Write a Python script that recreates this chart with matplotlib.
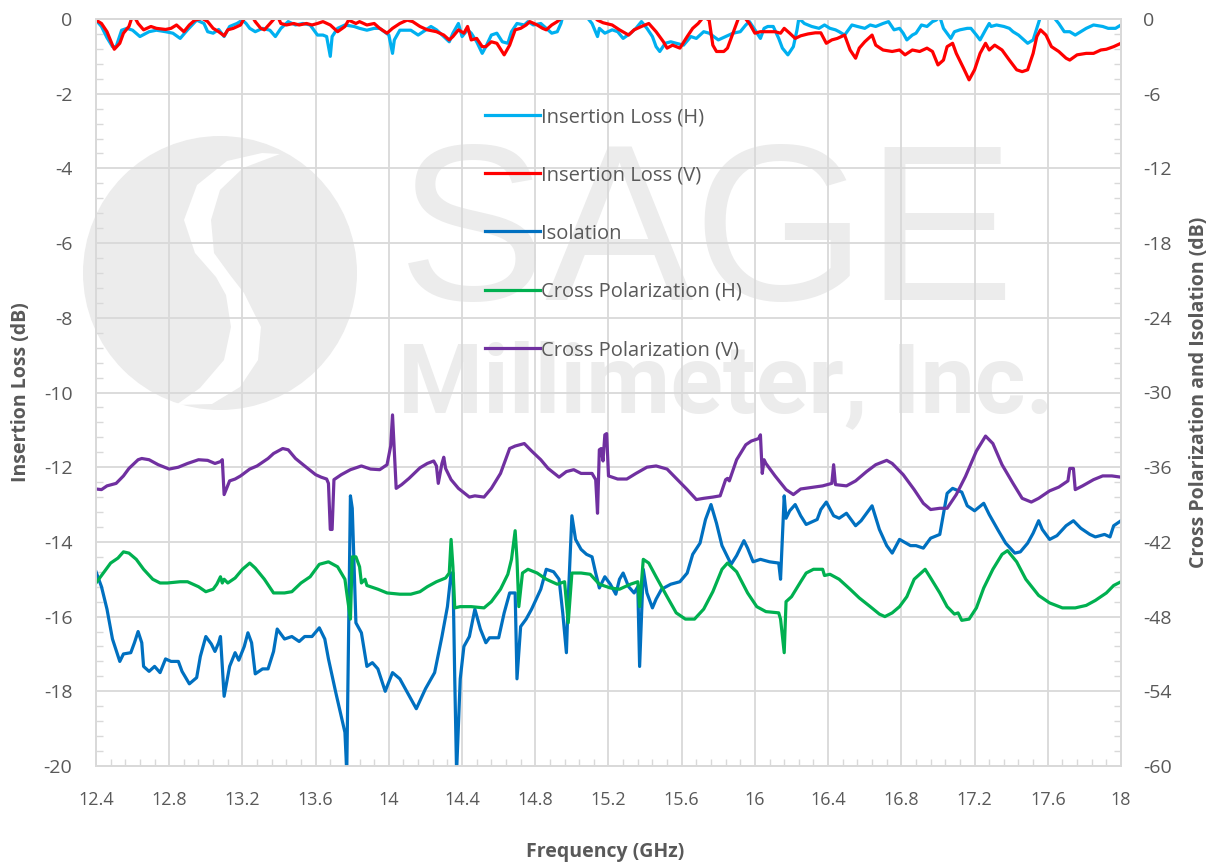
import numpy as np
import matplotlib
matplotlib.use("Agg")
import matplotlib.pyplot as plt
from matplotlib.ticker import MultipleLocator
from matplotlib.patches import Circle, Polygon

# Insertion loss (left axis, dB)
ilh_f = [12.40, 12.43, 12.46, 12.49, 12.51, 12.54, 12.57, 12.60, 12.64, 12.69,
         12.73, 12.78, 12.82, 12.86, 12.90, 12.95, 12.99, 13.01, 13.04, 13.07,
         13.10, 13.13, 13.17, 13.20, 13.22, 13.24, 13.27, 13.31, 13.35, 13.38,
         13.41, 13.45, 13.49, 13.53, 13.57, 13.61, 13.64, 13.66, 13.68, 13.69,
         13.72, 13.76, 13.81, 13.84, 13.88, 13.92, 13.95, 14.00, 14.02, 14.03,
         14.06, 14.12, 14.16, 14.20, 14.23, 14.26, 14.30, 14.33, 14.35, 14.38,
         14.40, 14.43, 14.45, 14.48, 14.51, 14.53, 14.56, 14.59, 14.62, 14.65,
         14.67, 14.70, 14.74, 14.76, 14.79, 14.83, 14.86, 14.89, 14.92, 14.94,
         14.95, 15.00, 15.08, 15.11, 15.14, 15.15, 15.18, 15.22, 15.25, 15.28,
         15.32, 15.35, 15.38, 15.41, 15.44, 15.46, 15.48, 15.51, 15.54, 15.57,
         15.61, 15.65, 15.68, 15.72, 15.75, 15.80, 15.84, 15.88, 15.92, 15.95,
         15.97, 16.00, 16.03, 16.05, 16.07, 16.10, 16.13, 16.15, 16.18, 16.21,
         16.23, 16.24, 16.27, 16.31, 16.35, 16.38, 16.41, 16.44, 16.46, 16.49,
         16.53, 16.56, 16.60, 16.63, 16.66, 16.70, 16.73, 16.76, 16.79, 16.81,
         16.83, 16.86, 16.88, 16.91, 16.94, 16.97, 16.99, 17.01, 17.03, 17.07,
         17.09, 17.12, 17.16, 17.18, 17.21, 17.23, 17.26, 17.28, 17.29, 17.32,
         17.36, 17.39, 17.41, 17.44, 17.47, 17.49, 17.52, 17.54, 17.56, 17.60,
         17.63, 17.66, 17.69, 17.72, 17.75, 17.78, 17.81, 17.85, 17.90, 17.93,
         17.97, 18.00]
ilh_v = [-0.03, -0.2, -0.5, -0.74, -0.74, -0.3, -0.25, -0.3, -0.47, -0.34,
         -0.3, -0.34, -0.38, -0.52, -0.29, -0.03, -0.12, -0.34, -0.38, -0.28,
         -0.47, -0.2, -0.12, -0.03, -0.12, -0.25, -0.34, -0.25, -0.3, -0.47,
         -0.25, -0.07, -0.16, -0.12, -0.16, -0.43, -0.43, -0.47, -1.0, -0.47,
         -0.25, -0.16, -0.2, -0.25, -0.3, -0.25, -0.25, -0.43, -0.92, -0.56,
         -0.3, -0.3, -0.43, -0.3, -0.2, -0.29, -0.47, -0.61, -0.38, -0.12,
         -0.47, -0.29, -0.38, -0.61, -0.92, -0.74, -0.43, -0.38, -0.61, -0.65,
         -0.34, -0.12, -0.16, -0.07, -0.16, -0.12, -0.25, -0.38, -0.34, -0.12,
         0.06, 0.4, 0.06, -0.12, -0.47, -0.25, -0.38, -0.29, -0.34, -0.52,
         -0.38, -0.25, -0.07, -0.25, -0.47, -0.74, -0.87, -0.65, -0.61, -0.65,
         -0.7, -0.47, -0.52, -0.34, -0.38, -0.56, -0.47, -0.38, -0.34, -0.16,
         -0.07, -0.29, -0.52, -0.25, -0.2, -0.2, -0.52, -0.78, -0.96, -0.74,
         -0.29, 0.02, -0.12, -0.2, -0.25, -0.16, -0.25, -0.29, -0.34, -0.43,
         -0.16, -0.2, -0.25, -0.16, -0.2, -0.12, -0.07, -0.29, -0.25, -0.38,
         -0.56, -0.43, -0.38, -0.16, -0.2, -0.07, -0.03, 0.06, -0.25, -0.52,
         -0.34, -0.29, -0.25, -0.25, -0.43, -0.56, -0.29, -0.12, -0.2, -0.16,
         -0.2, -0.25, -0.34, -0.43, -0.56, -0.65, -0.56, -0.25, 0.06, 0.3,
         0.06, -0.12, -0.34, -0.34, -0.43, -0.34, -0.25, -0.16, -0.2, -0.25,
         -0.25, -0.16]

ilv_f = [12.40, 12.43, 12.46, 12.49, 12.50, 12.53, 12.55, 12.58, 12.60, 12.61,
         12.63, 12.66, 12.70, 12.73, 12.78, 12.81, 12.84, 12.88, 12.91, 12.94,
         12.98, 13.01, 13.04, 13.07, 13.10, 13.12, 13.15, 13.19, 13.21, 13.25,
         13.27, 13.30, 13.32, 13.36, 13.39, 13.41, 13.44, 13.48, 13.51, 13.55,
         13.58, 13.61, 13.64, 13.68, 13.72, 13.76, 13.78, 13.82, 13.84, 13.88,
         13.92, 13.95, 13.99, 14.02, 14.06, 14.10, 14.13, 14.17, 14.21, 14.26,
         14.30, 14.33, 14.35, 14.38, 14.41, 14.43, 14.45, 14.48, 14.51, 14.53,
         14.56, 14.59, 14.63, 14.66, 14.69, 14.72, 14.75, 14.77, 14.81, 14.84,
         14.86, 14.89, 14.92, 14.95, 15.03, 15.12, 15.14, 15.17, 15.22, 15.26,
         15.31, 15.34, 15.38, 15.42, 15.46, 15.50, 15.52, 15.55, 15.59, 15.63,
         15.66, 15.69, 15.72, 15.75, 15.77, 15.79, 15.83, 15.85, 15.88, 15.91,
         15.94, 15.97, 16.00, 16.03, 16.07, 16.11, 16.14, 16.16, 16.19, 16.22,
         16.25, 16.29, 16.33, 16.36, 16.39, 16.42, 16.45, 16.49, 16.52, 16.55,
         16.57, 16.60, 16.64, 16.66, 16.70, 16.75, 16.79, 16.82, 16.86, 16.90,
         16.94, 16.97, 17.00, 17.03, 17.05, 17.08, 17.10, 17.14, 17.17, 17.20,
         17.23, 17.26, 17.28, 17.31, 17.35, 17.39, 17.43, 17.46, 17.49, 17.52,
         17.54, 17.56, 17.59, 17.62, 17.66, 17.70, 17.72, 17.76, 17.81, 17.85,
         17.89, 17.92, 17.96, 18.00]
ilv_v = [-0.03, -0.12, -0.34, -0.7, -0.81, -0.65, -0.38, -0.2, 0.1, 0.06,
         -0.12, -0.29, -0.2, -0.25, -0.28, -0.25, -0.16, -0.34, -0.16, -0.03,
         0.02, -0.07, -0.25, -0.34, -0.45, -0.29, -0.25, -0.16, 0.02, 0.1,
         -0.07, -0.25, -0.29, -0.07, 0.1, -0.12, -0.16, -0.12, -0.16, -0.12,
         -0.16, -0.12, -0.07, -0.16, -0.34, -0.2, -0.03, -0.12, -0.07, -0.16,
         -0.12, -0.25, -0.38, -0.25, -0.12, -0.03, -0.07, -0.2, -0.29, -0.34,
         -0.43, -0.56, -0.47, -0.29, -0.38, -0.2, -0.56, -0.52, -0.74, -0.74,
         -0.61, -0.65, -0.96, -0.7, -0.29, -0.25, -0.16, -0.07, -0.16, -0.25,
         -0.29, -0.16, -0.07, 0.06, 0.4, 0.06, -0.03, -0.1, -0.16, -0.29,
         -0.43, -0.29, -0.2, -0.12, -0.34, -0.61, -0.78, -0.7, -0.78, -0.47,
         -0.25, -0.12, 0.06, -0.03, -0.7, -0.87, -0.87, -0.78, -0.38, 0.02,
         0.06, -0.12, -0.38, -0.34, -0.34, -0.34, -0.38, -0.25, -0.38, -0.52,
         -0.45, -0.4, -0.37, -0.37, -0.65, -0.56, -0.52, -0.43, -0.83, -1.05,
         -0.78, -0.61, -0.43, -0.7, -0.83, -0.87, -0.83, -0.96, -0.83, -0.87,
         -0.78, -0.87, -1.23, -1.1, -0.74, -0.65, -0.92, -1.32, -1.63, -1.36,
         -0.92, -0.65, -0.83, -0.7, -0.83, -1.1, -1.36, -1.41, -1.36, -0.92,
         -0.47, -0.29, -0.43, -0.74, -0.87, -1.05, -1.1, -0.96, -0.92, -0.92,
         -0.83, -0.81, -0.74, -0.65]

# Isolation and cross polarization (right axis, dB)
iso_f = [12.40, 12.43, 12.46, 12.49, 12.53, 12.55, 12.59, 12.61, 12.63, 12.65,
         12.66, 12.69, 12.72, 12.75, 12.78, 12.81, 12.85, 12.87, 12.91, 12.95,
         12.97, 13.00, 13.03, 13.05, 13.07, 13.08, 13.10, 13.13, 13.16, 13.18,
         13.21, 13.23, 13.25, 13.27, 13.31, 13.34, 13.37, 13.39, 13.43, 13.47,
         13.51, 13.54, 13.58, 13.62, 13.65, 13.67, 13.71, 13.74, 13.76, 13.77,
         13.79, 13.80, 13.82, 13.85, 13.88, 13.91, 13.94, 13.98, 14.02, 14.06,
         14.12, 14.15, 14.20, 14.25, 14.29, 14.32, 14.34, 14.35, 14.36, 14.37,
         14.39, 14.41, 14.44, 14.47, 14.50, 14.53, 14.55, 14.60, 14.63, 14.66,
         14.69, 14.70, 14.72, 14.75, 14.78, 14.83, 14.86, 14.90, 14.93, 14.95,
         14.97, 14.98, 15.00, 15.02, 15.05, 15.08, 15.11, 15.13, 15.15, 15.18,
         15.21, 15.24, 15.26, 15.28, 15.31, 15.34, 15.36, 15.37, 15.39, 15.41,
         15.44, 15.46, 15.49, 15.54, 15.59, 15.63, 15.66, 15.70, 15.73, 15.76,
         15.79, 15.82, 15.87, 15.90, 15.94, 15.96, 15.99, 16.03, 16.08, 16.13,
         16.14, 16.16, 16.17, 16.19, 16.22, 16.25, 16.28, 16.34, 16.36, 16.39,
         16.43, 16.46, 16.50, 16.55, 16.58, 16.64, 16.68, 16.72, 16.75, 16.79,
         16.85, 16.88, 16.92, 16.96, 17.01, 17.05, 17.08, 17.13, 17.16, 17.20,
         17.25, 17.28, 17.33, 17.37, 17.42, 17.45, 17.49, 17.52, 17.55, 17.57,
         17.61, 17.65, 17.70, 17.74, 17.78, 17.83, 17.86, 17.91, 17.94, 17.96,
         18.00]
iso_v = [-44.4, -45.6, -47.4, -49.8, -51.6, -51.0, -50.9, -50.1, -49.2, -50.1,
         -52.0, -52.4, -52.0, -52.5, -51.4, -51.6, -51.6, -52.4, -53.4, -52.9,
         -51.2, -49.6, -50.2, -50.8, -50.1, -49.6, -54.4, -52.0, -50.9, -51.5,
         -50.4, -49.3, -50.1, -52.6, -52.2, -52.2, -50.8, -49.0, -49.8, -49.6,
         -50.0, -49.6, -49.6, -48.9, -49.8, -51.4, -54.1, -56.0, -57.3, -60.5,
         -38.3, -39.3, -48.5, -49.3, -52.0, -51.7, -52.2, -54.0, -52.5, -53.0,
         -54.6, -55.4, -53.8, -52.5, -49.6, -47.2, -44.5, -44.5, -53.0, -60.5,
         -53.0, -50.4, -49.6, -47.4, -49.0, -50.1, -49.7, -49.7, -47.7, -46.1,
         -46.1, -53.0, -48.8, -48.2, -47.4, -45.8, -44.2, -44.4, -45.0, -47.7,
         -50.9, -46.6, -39.9, -41.8, -42.6, -43.0, -43.2, -44.5, -45.7, -44.8,
         -45.4, -46.2, -45.0, -44.5, -45.6, -46.1, -45.6, -52.0, -44.2, -46.1,
         -47.3, -46.6, -45.8, -45.4, -45.2, -44.5, -43.0, -42.1, -40.2, -39.0,
         -40.5, -42.3, -43.8, -43.1, -41.9, -42.5, -43.6, -43.4, -43.6, -43.7,
         -45.0, -38.3, -40.1, -39.5, -39.0, -39.9, -40.6, -40.2, -39.4, -38.8,
         -39.9, -40.1, -39.7, -40.7, -40.3, -39.1, -41.0, -42.3, -42.9, -41.8,
         -42.3, -42.3, -42.5, -41.7, -41.4, -38.1, -37.7, -38.0, -39.1, -39.5,
         -38.9, -39.8, -41.1, -42.1, -42.9, -42.8, -42.1, -41.3, -40.3, -41.0,
         -41.8, -41.5, -40.7, -40.3, -40.9, -41.4, -41.6, -41.4, -41.6, -40.7,
         -40.3]

xph_f = [12.40, 12.44, 12.48, 12.52, 12.55, 12.58, 12.62, 12.66, 12.71, 12.75,
         12.79, 12.86, 12.90, 12.96, 13.00, 13.04, 13.06, 13.08, 13.09, 13.10,
         13.12, 13.16, 13.20, 13.24, 13.27, 13.32, 13.37, 13.43, 13.47, 13.52,
         13.57, 13.62, 13.67, 13.72, 13.76, 13.77, 13.79, 13.80, 13.82, 13.84,
         13.85, 13.87, 13.88, 13.94, 13.99, 14.06, 14.12, 14.17, 14.21, 14.26,
         14.31, 14.33, 14.34, 14.35, 14.36, 14.39, 14.45, 14.52, 14.56, 14.61,
         14.65, 14.67, 14.69, 14.70, 14.71, 14.73, 14.76, 14.81, 14.86, 14.92,
         14.96, 14.98, 15.00, 15.05, 15.10, 15.15, 15.21, 15.26, 15.32, 15.36,
         15.37, 15.39, 15.42, 15.46, 15.52, 15.57, 15.62, 15.67, 15.72, 15.77,
         15.82, 15.85, 15.90, 15.96, 16.01, 16.06, 16.13, 16.14, 16.16, 16.17,
         16.20, 16.25, 16.28, 16.32, 16.37, 16.38, 16.41, 16.46, 16.52, 16.57,
         16.63, 16.68, 16.71, 16.75, 16.79, 16.83, 16.87, 16.93, 16.96, 17.01,
         17.05, 17.09, 17.11, 17.13, 17.17, 17.21, 17.25, 17.30, 17.35, 17.38,
         17.43, 17.48, 17.55, 17.61, 17.68, 17.75, 17.81, 17.86, 17.92, 17.96,
         18.00]
xph_v = [-45.3, -44.5, -43.7, -43.3, -42.8, -42.9, -43.4, -44.2, -45.0, -45.3,
         -45.3, -45.2, -45.2, -45.6, -46.0, -45.8, -45.4, -44.8, -45.3, -45.0,
         -45.3, -44.9, -44.2, -43.7, -44.1, -45.0, -46.1, -46.1, -46.0, -45.3,
         -44.8, -43.8, -43.6, -44.0, -45.0, -46.1, -48.2, -43.2, -43.2, -44.0,
         -45.3, -45.0, -45.5, -45.8, -46.1, -46.2, -46.2, -46.0, -45.6, -45.2,
         -44.9, -44.5, -41.8, -44.0, -47.3, -47.2, -47.2, -47.3, -46.8, -45.8,
         -44.6, -43.4, -41.1, -43.4, -47.2, -44.5, -44.2, -44.5, -45.0, -45.4,
         -45.2, -48.5, -44.5, -44.5, -44.6, -45.4, -45.7, -45.8, -45.4, -45.2,
         -47.2, -43.4, -43.7, -44.8, -46.4, -47.7, -48.2, -48.2, -47.4, -46.0,
         -44.2, -43.7, -44.4, -46.1, -47.2, -47.6, -47.7, -48.2, -50.9, -46.8,
         -46.4, -45.2, -44.5, -44.2, -44.2, -44.7, -44.6, -45.0, -45.8, -46.5,
         -47.2, -47.8, -48.0, -47.7, -47.2, -46.4, -45.0, -44.2, -44.9, -46.1,
         -47.2, -47.8, -47.7, -48.3, -48.2, -47.3, -45.7, -44.2, -43.0, -42.7,
         -43.6, -45.0, -46.3, -46.9, -47.3, -47.3, -47.1, -46.7, -46.1, -45.5,
         -45.2]

xpv_f = [12.40, 12.43, 12.46, 12.51, 12.55, 12.58, 12.63, 12.65, 12.69, 12.74,
         12.80, 12.85, 12.90, 12.96, 13.01, 13.05, 13.08, 13.09, 13.10, 13.13,
         13.16, 13.19, 13.24, 13.28, 13.34, 13.37, 13.42, 13.45, 13.49, 13.54,
         13.60, 13.63, 13.66, 13.67, 13.68, 13.69, 13.70, 13.74, 13.79, 13.85,
         13.90, 13.95, 13.99, 14.01, 14.02, 14.04, 14.07, 14.11, 14.17, 14.21,
         14.245, 14.26, 14.27, 14.29, 14.30, 14.31, 14.34, 14.38, 14.44, 14.47,
         14.52, 14.56, 14.61, 14.66, 14.69, 14.74, 14.78, 14.83, 14.87, 14.93,
         14.97, 15.01, 15.05, 15.11, 15.13, 15.14, 15.15, 15.16, 15.17, 15.18,
         15.19, 15.20, 15.25, 15.30, 15.35, 15.41, 15.46, 15.52, 15.57, 15.63,
         15.68, 15.72, 15.77, 15.81, 15.84, 15.85, 15.86, 15.90, 15.95, 15.98,
         16.02, 16.03, 16.04, 16.05, 16.06, 16.11, 16.17, 16.21, 16.25, 16.32,
         16.37, 16.42, 16.43, 16.44, 16.50, 16.55, 16.61, 16.66, 16.72, 16.75,
         16.81, 16.87, 16.92, 16.96, 17.01, 17.05, 17.10, 17.15, 17.21, 17.26,
         17.30, 17.35, 17.41, 17.46, 17.51, 17.55, 17.61, 17.66, 17.71, 17.72,
         17.74, 17.75, 17.79, 17.85, 17.90, 17.95, 18.00]
xpv_v = [-37.75, -37.8, -37.5, -37.3, -36.7, -36.1, -35.4, -35.3, -35.4, -35.8,
         -36.15, -36.0, -35.7, -35.4, -35.45, -35.7, -35.55, -35.4, -38.2, -37.1,
         -36.95, -36.7, -36.15, -35.9, -35.3, -34.9, -34.5, -34.6, -35.3, -35.9,
         -36.6, -36.8, -36.95, -37.3, -41.0, -41.0, -37.0, -36.6, -36.2, -35.9,
         -36.15, -36.2, -35.8, -34.3, -31.8, -37.7, -37.4, -36.9, -36.05, -35.7,
         -35.5, -35.9, -37.3, -35.7, -35.2, -36.1, -37.0, -37.7, -38.4, -38.3,
         -38.4, -37.7, -36.5, -34.5, -34.3, -34.1, -34.7, -35.4, -36.1, -36.8,
         -36.35, -36.2, -36.5, -36.5, -37.0, -39.7, -34.6, -34.5, -35.5, -33.4,
         -33.3, -36.7, -36.95, -36.95, -36.5, -36.0, -35.9, -36.15, -36.9, -37.8,
         -38.6, -38.5, -38.4, -38.3, -37.0, -36.9, -37.1, -35.4, -34.2, -33.9,
         -33.7, -33.4, -36.5, -35.4, -35.7, -36.7, -37.8, -38.2, -37.75, -37.6,
         -37.5, -37.3, -35.8, -37.4, -37.5, -37.1, -36.35, -35.8, -35.45, -35.7,
         -36.6, -37.8, -38.9, -39.4, -39.3, -39.3, -38.2, -36.75, -34.7, -33.5,
         -34.1, -35.8, -37.3, -38.5, -38.8, -38.5, -37.9, -37.6, -37.1, -36.1,
         -36.1, -37.8, -37.5, -37.0, -36.7, -36.7, -36.8]

grey = "#595959"
grid_c = "#d9d9d9"
wm = "#ececec"

plt.rcParams['font.family'] = ['Open Sans', 'DejaVu Sans']
plt.rcParams['axes.unicode_minus'] = False

fig = plt.figure(figsize=(12.18, 8.65), dpi=100)

# watermark drawn in pixel space behind the chart
bg = fig.add_axes([0, 0, 1, 1], zorder=0)
bg.set_xlim(0, 1218)
bg.set_ylim(865, 0)
bg.axis("off")
bg.add_patch(Circle((220, 273), 137, color=wm, lw=0))
swoosh = [(262, 153), (227, 161), (197, 185), (184, 220), (195, 253), (216, 277),
          (226, 295), (231, 327), (224, 360), (200, 388), (176, 405),
          (212, 404), (240, 387), (258, 360), (261, 327), (244, 293), (230, 275),
          (214, 253), (211, 220), (220, 190), (243, 168), (280, 154)]
bg.add_patch(Polygon(swoosh, closed=True, color="white", lw=0))
bg.text(398, 300, "SAGE", fontsize=160, family="Liberation Sans", color=wm, va="baseline")
bg.text(398, 412, "Millimeter, Inc.", fontsize=70, family="Roboto",
        fontweight="bold", color=wm, va="baseline")

ax = fig.add_axes([96 / 1218, 1 - 766 / 865, 1025 / 1218, 747 / 865], zorder=1)
ax.patch.set_alpha(0)
ax2 = ax.twinx()

l1, = ax.plot(ilh_f, ilh_v, color="#00b0f0", lw=2.3, label="Insertion Loss (H)")
l2, = ax.plot(ilv_f, ilv_v, color="#ff0000", lw=2.3, label="Insertion Loss (V)")
l3, = ax2.plot(iso_f, iso_v, color="#0070c0", lw=2.3, label="Isolation")
l4, = ax2.plot(xph_f, xph_v, color="#00b050", lw=2.3, label="Cross Polarization (H)")
l5, = ax2.plot(xpv_f, xpv_v, color="#7030a0", lw=2.3, label="Cross Polarization (V)")

ax.set_xlim(12.4, 18)
ax.set_ylim(-20, 0)
ax2.set_ylim(-60, 0)

ax.xaxis.set_minor_locator(MultipleLocator(0.08))
ax.yaxis.set_major_locator(MultipleLocator(2))
ax.yaxis.set_minor_locator(MultipleLocator(0.4))
ax2.yaxis.set_major_locator(MultipleLocator(6))
ax2.yaxis.set_minor_locator(MultipleLocator(1.2))
ax.set_xticks(np.arange(12.4, 18.01, 0.4))
ax.set_xticklabels(["12.4", "12.8", "13.2", "13.6", "14", "14.4", "14.8", "15.2",
                    "15.6", "16", "16.4", "16.8", "17.2", "17.6", "18"])

ax.grid(which="major", color=grid_c, lw=1.3)
ax.set_axisbelow(True)
for a in (ax, ax2):
    for s in a.spines.values():
        s.set_color(grid_c)
        s.set_linewidth(1.3)
    a.tick_params(which="major", length=0, labelcolor=grey, labelsize=14)
    a.tick_params(which="minor", direction="in", length=5, color=grid_c, width=1)
ax.tick_params(axis="y", which="major", pad=17)
ax2.tick_params(axis="y", which="major", pad=16)
ax.tick_params(axis="x", which="major", pad=18, labelsize=13)

ax.set_xlabel("Frequency (GHz)", fontsize=14, fontweight="bold", color=grey)
ax.set_ylabel("Insertion Loss (dB)", fontsize=14, fontweight="bold", color=grey)
ax2.set_ylabel("Cross Polarization and Isolation (dB)", fontsize=14, fontweight="bold", color=grey)
ax.xaxis.set_label_coords(0.497, -0.102)
ax.yaxis.set_label_coords(-0.063, 0.5)
ax2.yaxis.set_label_coords(1.066, 0.5)

leg = ax2.legend(handles=[l1, l2, l3, l4, l5], loc="upper left",
                 bbox_to_anchor=(485 / 1218, 1 - 107 / 865), bbox_transform=fig.transFigure,
                 frameon=False, fontsize=14.5, labelspacing=1.9, handlelength=2.74,
                 handletextpad=0.05, borderpad=0, borderaxespad=0)
for t in leg.get_texts():
    t.set_color(grey)

fig.savefig("out.png", dpi=100)
